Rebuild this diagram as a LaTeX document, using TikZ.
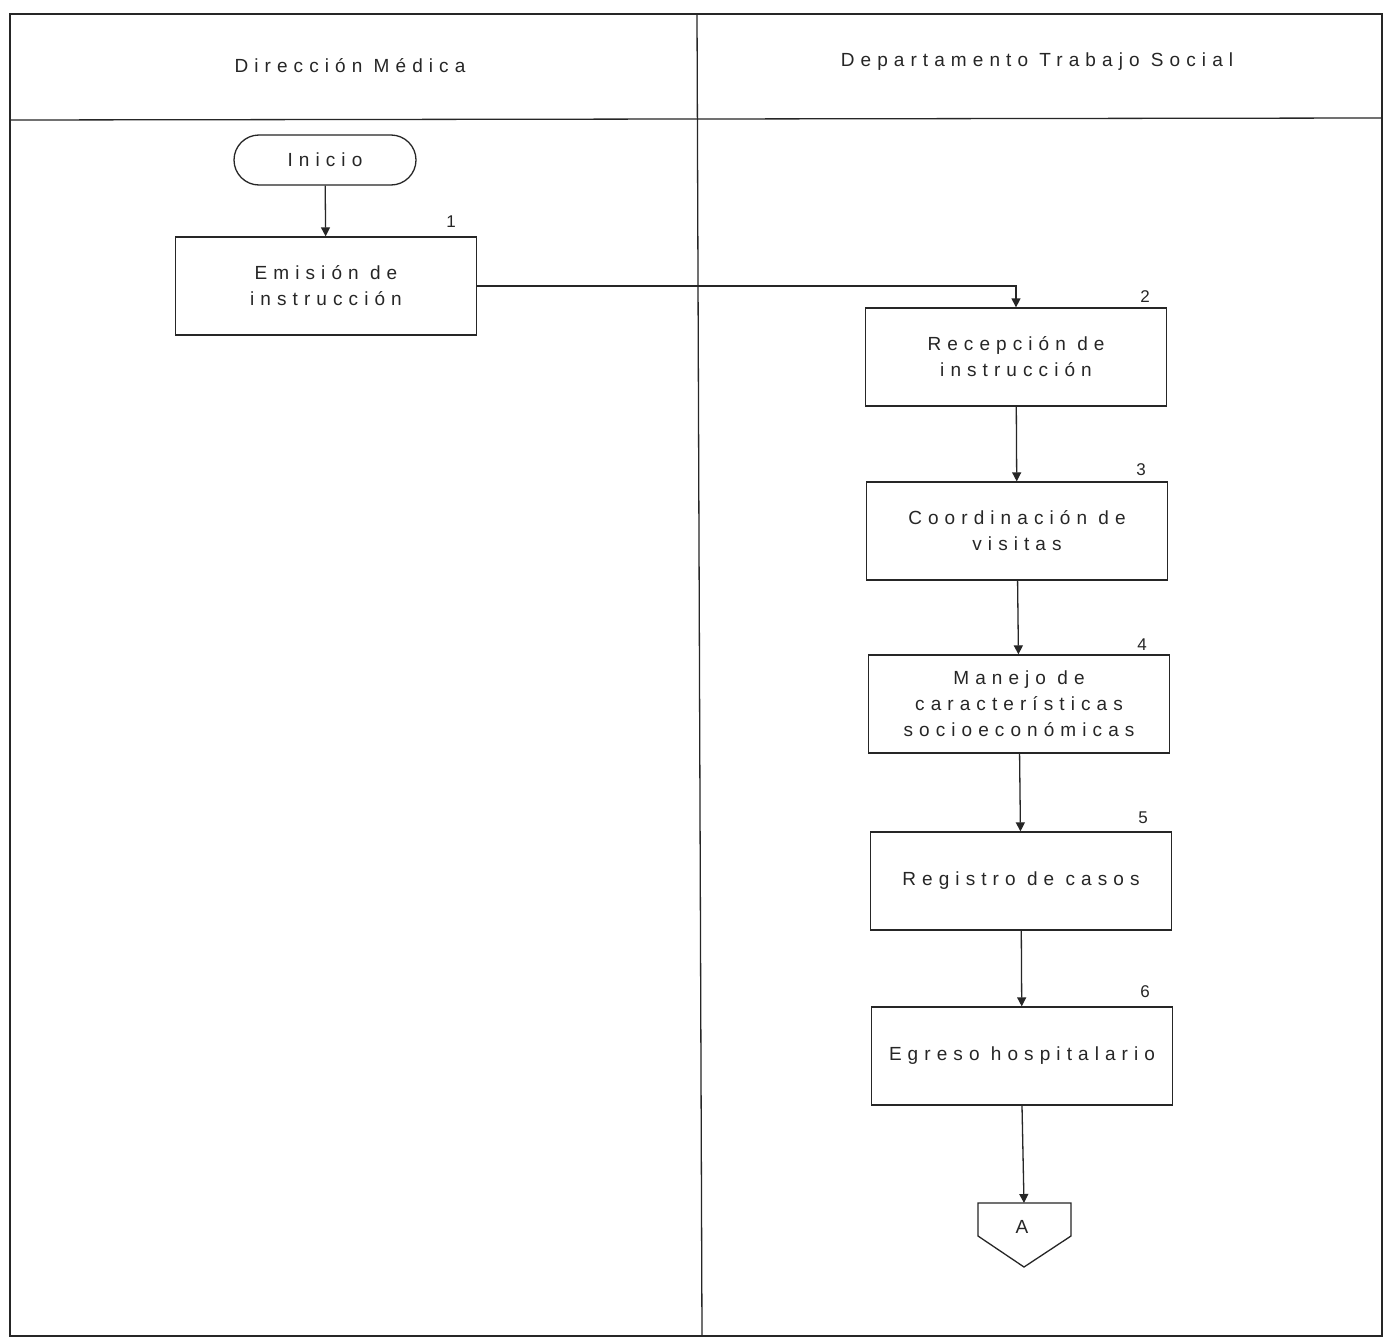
\documentclass[tikz,border=0pt]{standalone}
\usepackage{fontspec}
\setmainfont{Liberation Sans}[LetterSpace=32]
\usetikzlibrary{arrows.meta}
\begin{document}
\begin{tikzpicture}[x=1pt,y=-1pt,
  lane/.style={draw=black!85,line width=1.3pt},
  proc/.style={draw=black!85,line width=1.3pt,minimum width=301pt,minimum height=98pt,align=center,font=\fontsize{19}{26}\selectfont,text=black!85,inner sep=0pt},
  num/.style={font=\fontsize{17}{18}\selectfont,text=black!85,inner sep=0pt},
  arr/.style={draw=black!85,line width=1.3pt,-{Triangle[length=9pt,width=9pt]}},
  hdr/.style={font=\fontsize{19}{20}\selectfont,text=black!85}]
\useasboundingbox (0,0) rectangle (1386,1338);
\fill[white] (0,0) rectangle (1386,1338);
% frame
\draw[lane] (10,14) rectangle (1382,1336);
\draw[lane] (10,120) -- (1382,118);
\draw[lane] (697,14) -- (702,1336);
\node[hdr] (h1) at (350,66) {Dirección Médica};
\node[hdr] (h2) at (1037,62) {Departamento Trabajo Social};
% nodes
\node[draw=black!85,line width=1.3pt,rounded corners=25pt,minimum width=182pt,minimum height=50pt,font=\fontsize{19}{20}\selectfont,text=black!85,inner sep=0pt] (ini) at (325,160) {Inicio};
\node[proc] (b1) at (326,286) {Emisión de\\instrucción};
\node[proc] (b2) at (1016,357) {Recepción de\\instrucción};
\node[proc] (b3) at (1017,531) {Coordinación de\\visitas};
\node[proc] (b4) at (1019,704) {Manejo de\\características\\socioeconómicas};
\node[proc] (b5) at (1021,881) {Registro de casos};
\node[proc] (b6) at (1022,1056) {Egreso hospitalario};
\node[num] (n1) at (451,222) {1};
\node[num] (n2) at (1145,297) {2};
\node[num] (n3) at (1141,470) {3};
\node[num] (n4) at (1142,645) {4};
\node[num] (n5) at (1143,818) {5};
\node[num] (n6) at (1145,992) {6};
% off-page connector
\coordinate (A) at (1024,1203);
\draw[draw=black!85,line width=1.3pt] (978,1203) -- (1071,1203) -- (1071,1236) -- (1024,1267) -- (978,1236) -- cycle;
\node[font=\fontsize{19}{20}\selectfont,text=black!85] (Al) at (1022,1227) {A};
% connectors
\draw[arr] (ini) -- (b1);
\draw[arr] (b1.east) -- (b2.north |- b1.east) -- (b2.north);
\draw[arr] (b2) -- (b3);
\draw[arr] (b3) -- (b4);
\draw[arr] (b4) -- (b5);
\draw[arr] (b5) -- (b6);
\draw[arr] (b6.south) -- (A);
\end{tikzpicture}
\end{document}
